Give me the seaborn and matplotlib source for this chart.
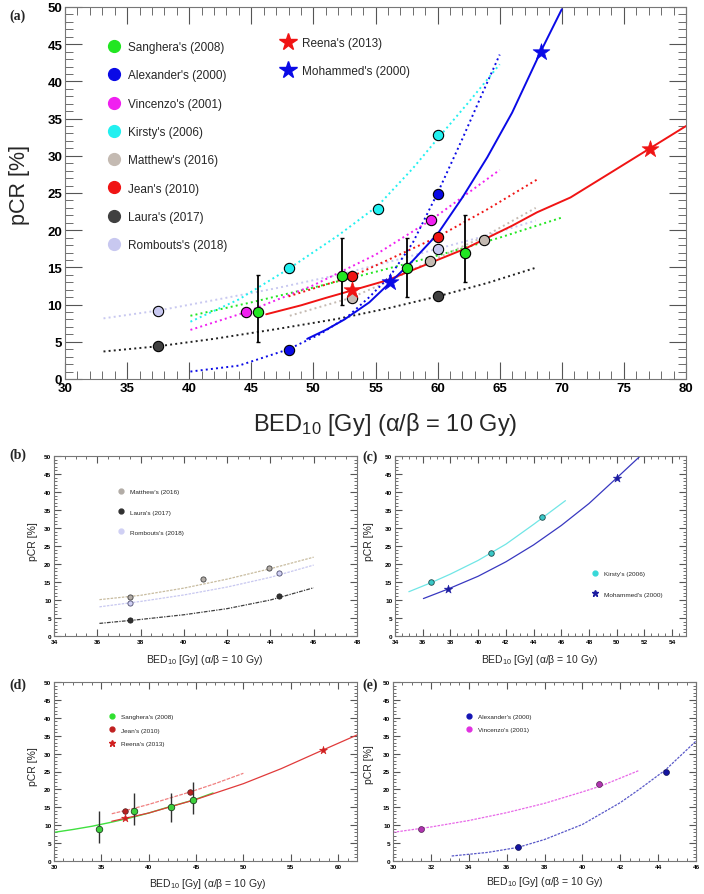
import numpy as np
import pandas as pd
import seaborn as sns
import matplotlib.pyplot as plt
from matplotlib.lines import Line2D
from matplotlib.ticker import MultipleLocator

# ---------------- panel (a): all studies ----------------
sang_x = [45.5, 52.3, 57.5, 62.2]
sang_y = [9.0, 13.9, 14.9, 16.9]
sang_lo = [5.0, 10.0, 11.0, 13.0]
sang_hi = [14.0, 19.0, 19.0, 22.0]
alex_x = [48.0, 60.0]
alex_y = [3.9, 24.9]
vinc_x = [44.6, 59.5]
vinc_y = [9.0, 21.4]
kirs_x = [48.0, 55.2, 60.0]
kirs_y = [14.9, 22.9, 32.8]
matt_x = [53.1, 59.4, 63.7]
matt_y = [10.9, 15.8, 18.7]
jean_x = [53.1, 60.0]
jean_y = [13.8, 19.1]
laur_x = [37.5, 60.0]
laur_y = [4.4, 11.1]
romb_x = [37.5, 60.0]
romb_y = [9.1, 17.5]
reen_x = [53.1, 77.1]
reen_y = [12.0, 30.9]
moha_x = [56.2, 68.3]
moha_y = [13.0, 44.0]

# fitted curves
fit_sang_x = [40.1, 45, 50, 55, 60, 65, 70]
fit_sang_y = [8.5, 10.3, 12.3, 14.4, 16.6, 19.0, 21.7]
fit_alex_x = [40.1, 44, 48, 50.5, 52.7, 54.5, 56.2, 58, 60, 62, 63.5, 65]
fit_alex_y = [1.0, 1.8, 4.0, 6.0, 8.3, 11.0, 13.9, 18.3, 25.0, 32.3, 38.0, 43.6]
fit_vinc_x = [40.1, 44.6, 50, 55, 59.5, 65]
fit_vinc_y = [6.6, 9.0, 12.6, 16.7, 21.4, 28.1]
fit_kirs_x = [40.1, 44, 48, 52, 55.2, 58, 60, 62.5, 65]
fit_kirs_y = [7.7, 10.7, 14.8, 19.3, 23.3, 28.3, 32.3, 37.2, 42.3]
fit_matt_x = [48.1, 53, 56, 59.5, 63.7, 67.9]
fit_matt_y = [8.5, 10.9, 13.1, 15.9, 19.1, 23.0]
fit_jean_x = [48.0, 53.1, 56, 60, 64, 68]
fit_jean_y = [11.1, 13.8, 16.0, 19.1, 22.8, 26.8]
fit_laur_x = [33.1, 37.5, 42, 47, 52, 56, 60, 64, 67.8]
fit_laur_y = [3.7, 4.4, 5.4, 6.7, 8.1, 9.5, 11.1, 12.9, 14.9]
fit_romb_x = [33.1, 37.5, 42, 47, 52, 56, 60, 64, 67.9]
fit_romb_y = [8.15, 9.2, 10.6, 12.2, 14.0, 15.7, 17.5, 19.3, 21.3]
fit_reen_x = [46.2, 49, 51, 53.1, 56, 59.4, 62.2, 66, 68, 70.7, 74, 77, 80]
fit_reen_y = [8.7, 9.9, 10.9, 11.9, 13.3, 15.6, 17.5, 20.6, 22.4, 24.4, 27.8, 30.9, 34.0]
fit_moha_x = [49.5, 51, 52.5, 54.5, 56.2, 58, 60, 62, 64, 66, 68.3, 70]
fit_moha_y = [5.4, 6.6, 8.0, 10.3, 13.0, 15.9, 19.5, 24.4, 29.8, 35.8, 44.0, 49.7]

# ---------------- panel (b) ----------------
b_matt_x = [37.5, 40.9, 43.95]
b_matt_y = [10.9, 15.9, 18.8]
b_laur_x = [37.5, 44.4]
b_laur_y = [4.35, 11.1]
b_romb_x = [37.5, 44.4]
b_romb_y = [9.3, 17.5]
b_fit_x = [36.1, 38, 40, 42, 44, 46]
b_fit_matt = [10.1, 11.3, 13.3, 15.8, 18.7, 21.9]
b_fit_romb = [8.1, 9.6, 11.4, 13.6, 16.3, 19.7]
b_fit_laur = [3.5, 4.6, 5.9, 7.6, 10.0, 13.4]

# ---------------- panel (c) ----------------
c_kirs_x = [36.6, 40.9, 44.6]
c_kirs_y = [15.0, 23.0, 33.0]
c_moha_x = [37.8, 50.0]
c_moha_y = [13.0, 44.0]
c_fit_kirs_x = [35.0, 36.6, 38, 40, 42, 44, 46.3]
c_fit_kirs_y = [12.3, 14.8, 17.2, 21.0, 25.5, 31.0, 37.6]
c_fit_moha_x = [36.05, 37.8, 40, 42, 44, 46, 48, 50, 51.7]
c_fit_moha_y = [10.4, 13.0, 16.6, 20.6, 25.3, 30.7, 36.8, 43.9, 50.0]

# ---------------- panel (d) ----------------
d_sang_x = [34.8, 38.5, 42.4, 44.7]
d_sang_y = [9.0, 14.0, 15.0, 17.0]
d_sang_lo = [5.0, 10.0, 11.0, 13.0]
d_sang_hi = [14.0, 19.0, 19.0, 22.0]
d_jean_x = [37.5, 44.4]
d_jean_y = [14.0, 19.2]
d_reen_x = [37.5, 58.4]
d_reen_y = [12.0, 31.1]
d_fit_sang_x = [30, 32, 34, 36, 38, 40, 42, 44.7, 46.8]
d_fit_sang_y = [8.0, 8.8, 9.7, 10.8, 12.0, 13.4, 15.0, 17.0, 19.0]
d_fit_jean_x = [36.1, 38, 40, 42, 44.4, 47, 50]
d_fit_jean_y = [13.2, 14.4, 15.8, 17.4, 19.3, 21.6, 24.5]
d_fit_reen_x = [36.1, 40, 45, 50, 54, 58.4, 62]
d_fit_reen_y = [11.1, 13.4, 17.2, 21.6, 25.8, 31.0, 35.2]

# ---------------- panel (e) ----------------
e_alex_x = [36.6, 44.4]
e_alex_y = [3.9, 25.0]
e_vinc_x = [31.5, 40.9]
e_vinc_y = [9.0, 21.4]
e_fit_alex_x = [33.1, 35, 36.6, 38, 40, 42, 43, 44.4, 46]
e_fit_alex_y = [1.4, 2.4, 3.8, 6.0, 10.2, 16.3, 20.0, 25.5, 33.5]
e_fit_vinc_x = [30, 32, 34, 36, 38, 40, 41, 43]
e_fit_vinc_y = [8.0, 9.5, 11.3, 13.5, 16.1, 19.3, 21.0, 25.3]

W, H = 704, 895
sns.set_theme(style="ticks")
plt.rcParams['font.family'] = ['Liberation Sans', 'DejaVu Sans']
plt.rcParams['mathtext.fontset'] = 'custom'
plt.rcParams['mathtext.rm'] = 'Liberation Sans'
plt.rcParams['mathtext.it'] = 'Liberation Sans:italic'

fig = plt.figure(figsize=(W / 100, H / 100), dpi=100)
fig.patch.set_facecolor('white')


def box(l, r, t, b):
    return [l / W, 1 - b / H, (r - l) / W, (b - t) / H]


def curve(ax, x, y, color, ls=':', lw=1.4):
    sns.lineplot(x=x, y=y, ax=ax, color=color, linestyle=ls, lw=lw,
                 sort=False, estimator=None, legend=False)


def dots(ax, x, y, color, s, marker='o', ec='black', lw=0.8):
    sns.scatterplot(x=x, y=y, ax=ax, color=color, marker=marker, s=s,
                    edgecolor=ec, linewidth=lw, zorder=5, legend=False)


def style(ax, xlim, xmaj, xmin, fs, majlen, minlen):
    ax.set_xlim(*xlim)
    ax.set_ylim(0, 50)
    ax.xaxis.set_major_locator(MultipleLocator(xmaj))
    ax.xaxis.set_minor_locator(MultipleLocator(xmin))
    ax.yaxis.set_major_locator(MultipleLocator(5))
    ax.yaxis.set_minor_locator(MultipleLocator(1))
    ax.tick_params(which='both', direction='in', top=True, right=True,
                   colors='#555555', labelcolor='black', labelsize=fs, pad=2)
    ax.tick_params(which='major', length=majlen, width=0.8)
    ax.tick_params(which='minor', length=minlen, width=0.6)
    for lab in ax.get_xticklabels() + ax.get_yticklabels():
        lab.set_fontweight('bold')
    for sp in ax.spines.values():
        sp.set_color('#777777')
        sp.set_linewidth(0.8)
    ax.set_xlabel('')
    ax.set_ylabel('')


def handle(color, marker='o', ms=7, ec=None):
    return Line2D([], [], ls='none', marker=marker, markersize=ms,
                  markerfacecolor=color, markeredgecolor=ec or color)


xlab = 'BED$_{10}$ [Gy] (α/β = 10 Gy)'

c_sang = '#22e622'
c_alex = '#0a0ae6'
c_vinc = '#f020f0'
c_kirs = '#22f0f0'
c_matt = '#c4bab2'
c_jean = '#f01414'
c_laur = '#404040'
c_romb = '#c8c8f0'

# ================= panel (a) =================
ax = fig.add_axes(box(65, 686, 8, 380))
curve(ax, fit_romb_x, fit_romb_y, c_romb)
curve(ax, fit_laur_x, fit_laur_y, '#202020')
curve(ax, fit_sang_x, fit_sang_y, c_sang)
curve(ax, fit_vinc_x, fit_vinc_y, c_vinc)
curve(ax, fit_kirs_x, fit_kirs_y, c_kirs)
curve(ax, fit_matt_x, fit_matt_y, c_matt)
curve(ax, fit_jean_x, fit_jean_y, c_jean)
curve(ax, fit_alex_x, fit_alex_y, c_alex)
curve(ax, fit_reen_x, fit_reen_y, c_jean, ls='-', lw=1.4)
curve(ax, fit_moha_x, fit_moha_y, c_alex, ls='-', lw=1.4)
ax.errorbar(sang_x, sang_y,
            yerr=[np.subtract(sang_y, sang_lo), np.subtract(sang_hi, sang_y)],
            fmt='none', ecolor='black', elinewidth=1.3, capsize=1.5, zorder=4)
ms = 55
dots(ax, romb_x, romb_y, c_romb, ms)
dots(ax, laur_x, laur_y, c_laur, ms)
dots(ax, matt_x, matt_y, c_matt, ms)
dots(ax, kirs_x, kirs_y, c_kirs, ms)
dots(ax, vinc_x, vinc_y, c_vinc, ms)
dots(ax, alex_x, alex_y, c_alex, ms)
dots(ax, jean_x, jean_y, c_jean, ms)
dots(ax, sang_x, sang_y, c_sang, ms)
dots(ax, reen_x, reen_y, c_jean, 160, marker='*', ec=c_jean, lw=0.5)
dots(ax, moha_x, moha_y, c_alex, 160, marker='*', ec=c_alex, lw=0.5)
style(ax, (30, 80), 5, 1, 9.5, 12, 6)

names1 = ["Sanghera's (2008)", "Alexander's (2000)", "Vincenzo's (2001)",
          "Kirsty's (2006)", "Matthew's (2016)", "Jean's (2010)",
          "Laura's (2017)", "Rombouts's (2018)"]
cols1 = [c_sang, c_alex, c_vinc, c_kirs, c_matt, c_jean, c_laur, c_romb]
leg1 = ax.legend([handle(c, ms=8.5) for c in cols1], names1, loc='center left',
                 bbox_to_anchor=(0.070, 0.626), frameon=False, fontsize=8.5,
                 handlelength=1.0, handletextpad=0.65, labelspacing=1.38,
                 borderpad=0, borderaxespad=0)
ax.add_artist(leg1)
ax.legend([handle(c_jean, '*', 13), handle(c_alex, '*', 13)],
          ["Reena's (2013)", "Mohammed's (2000)"], loc='center left',
          bbox_to_anchor=(0.350, 0.866), frameon=False, fontsize=8.5,
          handlelength=1.0, handletextpad=0.65, labelspacing=1.38,
          borderpad=0, borderaxespad=0)
fig.text(19 / W, 1 - 185 / H, 'pCR [%]', rotation=90, fontsize=15.5,
         ha='center', va='center')
fig.text(385 / W, 1 - 425 / H, xlab, fontsize=17, ha='center', va='center')
fig.text(18 / W, 1 - 16 / H, '(a)', fontsize=10, fontweight='bold',
         family='Liberation Serif', ha='center', va='center')

sub_fs = 4.6
leg_kw = dict(frameon=False, fontsize=4.6, handlelength=1.0, loc='center left',
              borderpad=0, borderaxespad=0, handletextpad=1.0)

# ================= panel (b) =================
ax = fig.add_axes(box(54, 357, 457, 637))
curve(ax, b_fit_x, b_fit_matt, '#c8bca0', ls=(0, (2, 1)), lw=0.9)
curve(ax, b_fit_x, b_fit_romb, '#c8c8f0', ls=(0, (2, 1)), lw=0.9)
curve(ax, b_fit_x, b_fit_laur, '#404040', ls=(0, (3, 1, 1, 1)), lw=0.9)
dots(ax, b_matt_x, b_matt_y, '#b2aca6', 14, ec='#404040', lw=0.6)
dots(ax, b_romb_x, b_romb_y, '#d0d0f4', 14, ec='#505070', lw=0.6)
dots(ax, b_laur_x, b_laur_y, '#303030', 14, ec='#202020', lw=0.6)
style(ax, (34, 48), 2, 0.5, sub_fs, 5, 2.5)
ax.legend([handle('#b2aca6', ms=3.5), handle('#303030', ms=3.5),
           handle('#d0d0f4', ms=3.5)],
          ["Matthew's (2016)", "Laura's (2017)", "Rombouts's (2018)"],
          bbox_to_anchor=(0.21, 0.69), labelspacing=2.3, **leg_kw)
fig.text(33 / W, 1 - 542 / H, 'pCR [%]', rotation=90, fontsize=7.5,
         ha='center', va='center')
fig.text(205 / W, 1 - 660 / H, xlab, fontsize=7.5, ha='center', va='center')
fig.text(18 / W, 1 - 455 / H, '(b)', fontsize=10, fontweight='bold',
         family='Liberation Serif', ha='center', va='center')

# ================= panel (c) =================
ax = fig.add_axes(box(395, 686, 457, 637))
curve(ax, c_fit_kirs_x, c_fit_kirs_y, '#70e6e6', ls='-', lw=0.9)
curve(ax, c_fit_moha_x, c_fit_moha_y, '#3838c0', ls='-', lw=0.9)
dots(ax, c_kirs_x, c_kirs_y, '#38c8c8', 16, ec='#204848', lw=0.6)
dots(ax, c_moha_x, c_moha_y, '#1c1ca0', 40, marker='*', ec='#1c1ca0', lw=0.4)
style(ax, (34, 55), 2, 0.5, sub_fs, 5, 2.5)
ax.legend([handle('#38d8d8', ms=3.5), handle('#1c1ca0', '*', 5)],
          ["Kirsty's (2006)", "Mohammed's (2000)"],
          bbox_to_anchor=(0.675, 0.29), labelspacing=2.3, **leg_kw)
fig.text(369 / W, 1 - 542 / H, 'pCR [%]', rotation=90, fontsize=7.5,
         ha='center', va='center')
fig.text(540 / W, 1 - 660 / H, xlab, fontsize=7.5, ha='center', va='center')
fig.text(370 / W, 1 - 457 / H, '(c)', fontsize=10, fontweight='bold',
         family='Liberation Serif', ha='center', va='center')

# ================= panel (d) =================
ax = fig.add_axes(box(54, 357, 683, 862))
curve(ax, d_fit_sang_x, d_fit_sang_y, '#40e040', ls='-', lw=1.0)
curve(ax, d_fit_jean_x, d_fit_jean_y, '#f08080', ls=(0, (3, 1)), lw=0.9)
curve(ax, d_fit_reen_x, d_fit_reen_y, '#e03a3a', ls='-', lw=0.9)
ax.errorbar(d_sang_x, d_sang_y,
            yerr=[np.subtract(d_sang_y, d_sang_lo), np.subtract(d_sang_hi, d_sang_y)],
            fmt='none', ecolor='#303030', elinewidth=1.0, capsize=0, zorder=4)
dots(ax, d_jean_x, d_jean_y, '#b82020', 16, ec='#502020', lw=0.5)
dots(ax, d_sang_x, d_sang_y, '#3cd03c', 22, ec='#204020', lw=0.6)
dots(ax, d_reen_x, d_reen_y, '#d02020', 36, marker='*', ec='#d02020', lw=0.4)
style(ax, (30, 62), 5, 1, sub_fs, 5, 2.5)
ax.legend([handle('#30e030', ms=3.5), handle('#c02020', ms=3.5),
           handle('#d02020', '*', 5)],
          ["Sanghera's (2008)", "Jean's (2010)", "Reena's (2013)"],
          bbox_to_anchor=(0.18, 0.732), labelspacing=1.25, **leg_kw)
fig.text(33 / W, 1 - 767 / H, 'pCR [%]', rotation=90, fontsize=7.5,
         ha='center', va='center')
fig.text(208 / W, 1 - 884 / H, xlab, fontsize=7.5, ha='center', va='center')
fig.text(18 / W, 1 - 685 / H, '(d)', fontsize=10, fontweight='bold',
         family='Liberation Serif', ha='center', va='center')

# ================= panel (e) =================
ax = fig.add_axes(box(393, 696, 683, 862))
curve(ax, e_fit_vinc_x, e_fit_vinc_y, '#e868e8', ls=(0, (2, 1)), lw=0.9)
curve(ax, e_fit_alex_x, e_fit_alex_y, '#5858c8', ls=(0, (2, 1)), lw=0.9)
dots(ax, e_vinc_x, e_vinc_y, '#b034b0', 18, ec='#502050', lw=0.5)
dots(ax, e_alex_x, e_alex_y, '#1414a0', 18, ec='#101050', lw=0.5)
style(ax, (30, 46), 2, 0.5, sub_fs, 5, 2.5)
ax.legend([handle('#1414b4', ms=3.5), handle('#e030e0', ms=3.5)],
          ["Alexander's (2000)", "Vincenzo's (2001)"],
          bbox_to_anchor=(0.24, 0.771), labelspacing=1.25, **leg_kw)
fig.text(369 / W, 1 - 765 / H, 'pCR [%]', rotation=90, fontsize=7.5,
         ha='center', va='center')
fig.text(545 / W, 1 - 882 / H, xlab, fontsize=7.5, ha='center', va='center')
fig.text(370 / W, 1 - 685 / H, '(e)', fontsize=10, fontweight='bold',
         family='Liberation Serif', ha='center', va='center')

fig.savefig('out.png', dpi=100, facecolor='white')
